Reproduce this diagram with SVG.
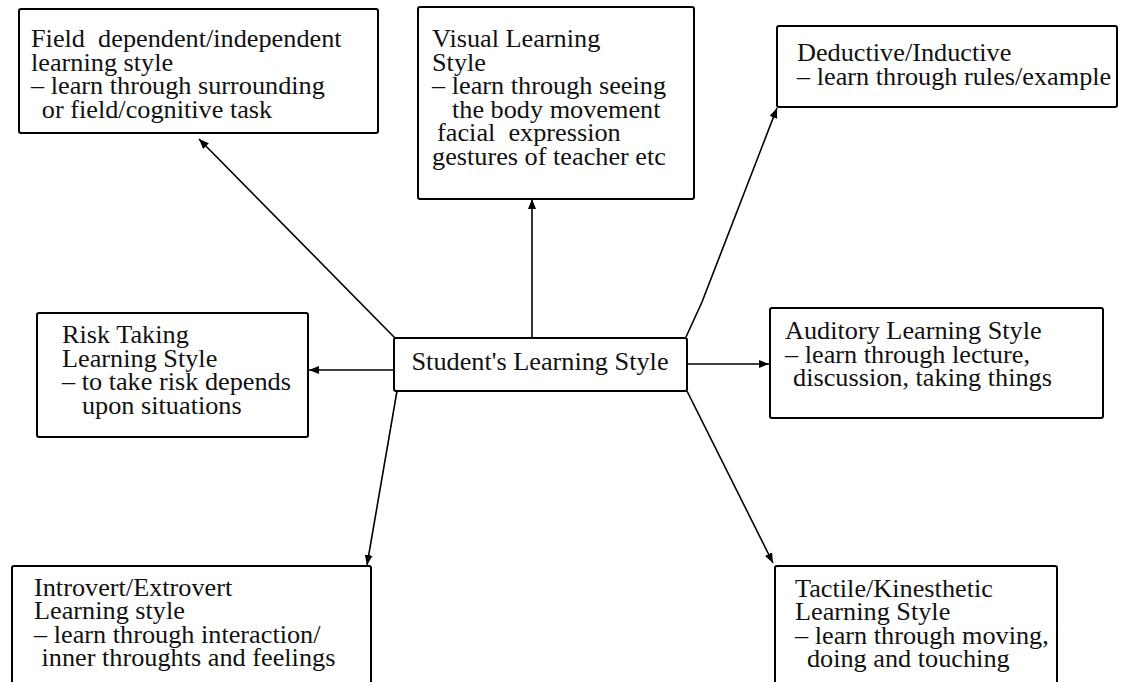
<svg xmlns="http://www.w3.org/2000/svg" width="1121" height="682" viewBox="0 0 1121 682">
<defs>
<style>
.box{fill:#fff;stroke:#000;stroke-width:2}
.t{font-family:"Liberation Serif","Times New Roman",serif;font-size:25.5px;fill:#111;white-space:pre}
.c{fill:none;stroke:#000;stroke-width:1.6}
</style>
<marker id="ah" markerUnits="userSpaceOnUse" markerWidth="11" markerHeight="8" refX="10" refY="4" orient="auto">
<path d="M0,0 L10,4 L0,8 z" fill="#000"/>
</marker>
</defs>
<rect width="1121" height="682" fill="#fff"/>
<g id="connectors">
<path class="c" d="M395,338 L199,139" marker-end="url(#ah)"/>
<path class="c" d="M532,338 L532,199" marker-end="url(#ah)"/>
<path class="c" d="M686,337 L702,302 L777,108" marker-end="url(#ah)"/>
<path class="c" d="M394,370 L309,370" marker-end="url(#ah)"/>
<path class="c" d="M687,364 L769,364" marker-end="url(#ah)"/>
<path class="c" d="M397,391 L367,565" marker-end="url(#ah)"/>
<path class="c" d="M687,391 L773,563" marker-end="url(#ah)"/>
</g>
<g id="field">
<rect class="box" x="19" y="9" width="359" height="124" rx="2"/>
<text class="t" transform="translate(31,0) scale(1.03,1)"><tspan x="0" y="47">Field  dependent/independent</tspan><tspan x="0" y="71">learning style</tspan><tspan x="0" y="94">– learn through surrounding</tspan><tspan x="10.5" y="118">or field/cognitive task</tspan></text>
</g>
<g id="visual">
<rect class="box" x="418" y="7" width="276" height="192" rx="2"/>
<text class="t" transform="translate(432,0) scale(1.03,1)"><tspan x="0" y="47">Visual Learning</tspan><tspan x="0" y="71">Style</tspan><tspan x="0" y="94">– learn through seeing</tspan><tspan x="19.4" y="118">the body movement</tspan><tspan x="4.9" y="141">facial  expression</tspan><tspan x="0" y="165">gestures of teacher etc</tspan></text>
</g>
<g id="deductive">
<rect class="box" x="777" y="26" width="340" height="81" rx="2"/>
<text class="t" transform="translate(797,0) scale(1.03,1)"><tspan x="0" y="61">Deductive/Inductive</tspan><tspan x="0" y="85">– learn through rules/example</tspan></text>
</g>
<g id="risk">
<rect class="box" x="37" y="313" width="271" height="124" rx="2"/>
<text class="t" transform="translate(62,0) scale(1.03,1)"><tspan x="0" y="343">Risk Taking</tspan><tspan x="0" y="367">Learning Style</tspan><tspan x="0" y="390">– to take risk depends</tspan><tspan x="19.4" y="414">upon situations</tspan></text>
</g>
<g id="center">
<rect class="box" x="394" y="338" width="293" height="53" rx="2"/>
<text class="t" transform="translate(411.5,0) scale(1.03,1)"><tspan x="0" y="370">Student's Learning Style</tspan></text>
</g>
<g id="auditory">
<rect class="box" x="770" y="308" width="333" height="110" rx="2"/>
<text class="t" transform="translate(785,0) scale(1.03,1)"><tspan x="0" y="339">Auditory Learning Style</tspan><tspan x="0" y="363">– learn through lecture,</tspan><tspan x="7.8" y="386">discussion, taking things</tspan></text>
</g>
<g id="introvert">
<rect class="box" x="12" y="566" width="359" height="140" rx="2"/>
<text class="t" transform="translate(34,0) scale(1.03,1)"><tspan x="0" y="596">Introvert/Extrovert</tspan><tspan x="0" y="619">Learning style</tspan><tspan x="0" y="643">– learn through interaction/</tspan><tspan x="7.3" y="666">inner throughts and feelings</tspan></text>
</g>
<g id="tactile">
<rect class="box" x="775" y="566" width="282" height="140" rx="2"/>
<text class="t" transform="translate(795,0) scale(1.03,1)"><tspan x="0" y="597">Tactile/Kinesthetic</tspan><tspan x="0" y="620">Learning Style</tspan><tspan x="0" y="644">– learn through moving,</tspan><tspan x="11.6" y="667">doing and touching</tspan></text>
</g>
</svg>
